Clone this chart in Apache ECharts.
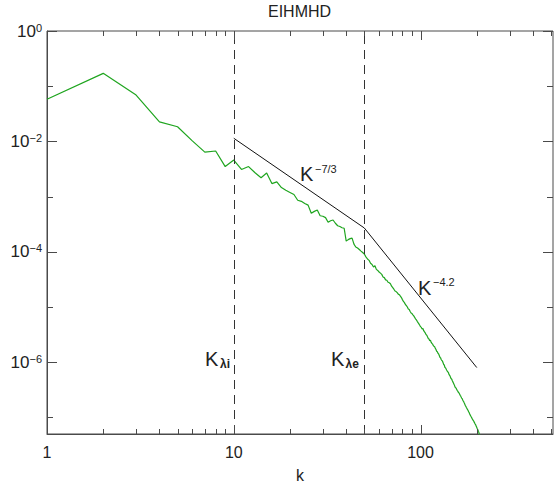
<!DOCTYPE html>
<html><head><meta charset="utf-8">
<script src="https://cdn.jsdelivr.net/npm/echarts@6/dist/echarts.min.js"></script>
<style>html,body{margin:0;padding:0;background:#fff}#c{width:556px;height:488px}</style>
</head><body><div id="c"></div>
<script>
// Energy spectrum E(k), k = 1, 2, 3, ... (one value per integer k)
const energy = [
  5.8e-2, 1.71e-1, 6.9e-2, 2.26e-2, 1.84e-2, 1.02e-2, 6.4e-3, 6.7e-3, 3.5e-3, 4.6e-3,
  3.1e-3, 3.5e-3, 2.7e-3, 2.2e-3, 2.67e-3, 1.72e-3, 1.85e-3, 1.46e-3, 1.30e-3, 1.19e-3,
  1.09e-3, 8.6e-4, 8.2e-4, 7.5e-4, 7.0e-4, 5.0e-4, 5.4e-4, 5.7e-4, 4.5e-4, 4.4e-4,
  4.16e-4, 3.43e-4, 3.65e-4, 3.77e-4, 3.29e-4, 2.96e-4, 2.87e-4, 2.73e-4, 2.67e-4, 1.56e-4,
  1.66e-4, 1.73e-4, 1.77e-4, 1.38e-4, 1.22e-4, 1.17e-4, 1.10e-4, 1.03e-4, 9.7e-5, 9.1e-5,
  8.1e-5, 7.4e-5, 7.0e-5, 6.2e-5, 5.9e-5, 5.3e-5, 5.6e-5, 4.8e-5, 4.6e-5, 4.3e-5,
  4.1e-5, 3.9e-5, 3.5e-5, 3.4e-5, 3.1e-5, 3.05e-5, 2.8e-5, 2.75e-5, 2.64e-5, 2.38e-5,
  2.24e-5, 2.1e-5, 1.95e-5, 1.9e-5, 1.82e-5, 1.71e-5, 1.67e-5, 1.57e-5, 1.48e-5, 1.36e-5,
  1.26e-5, 1.2e-5, 1.11e-5, 1.06e-5, 1.0e-5, 9.2e-6, 9.0e-6, 8.3e-6, 7.8e-6, 7.6e-6,
  7.2e-6, 6.9e-6, 6.5e-6, 6.1e-6, 5.85e-6, 5.5e-6, 5.2e-6, 4.95e-6, 4.66e-6, 4.4e-6,
  4.27e-6, 3.98e-6, 4.07e-6, 3.72e-6, 3.55e-6, 3.39e-6, 3.16e-6, 3.09e-6, 2.88e-6, 2.69e-6,
  2.63e-6, 2.45e-6, 2.51e-6, 2.29e-6, 2.19e-6, 2.14e-6, 2.0e-6, 1.95e-6, 1.91e-6, 1.78e-6,
  1.70e-6, 1.58e-6, 1.55e-6, 1.45e-6, 1.41e-6, 1.32e-6, 1.23e-6, 1.20e-6, 1.12e-6, 1.07e-6,
  1.05e-6, 9.8e-7, 9.1e-7, 8.9e-7, 8.1e-7, 7.9e-7, 7.8e-7, 7.2e-7, 6.9e-7, 6.8e-7,
  6.5e-7, 6.0e-7, 5.9e-7, 5.6e-7, 5.2e-7, 5.0e-7, 4.9e-7, 4.6e-7, 4.4e-7, 4.2e-7,
  4.0e-7, 3.8e-7, 3.55e-7, 3.47e-7, 3.39e-7, 3.24e-7, 3.09e-7, 3.02e-7, 2.88e-7, 2.82e-7,
  2.75e-7, 2.63e-7, 2.51e-7, 2.45e-7, 2.34e-7, 2.24e-7, 2.19e-7, 2.09e-7, 2.0e-7, 1.95e-7,
  1.86e-7, 1.78e-7, 1.70e-7, 1.62e-7, 1.58e-7, 1.51e-7, 1.48e-7, 1.41e-7, 1.38e-7, 1.32e-7,
  1.26e-7, 1.23e-7, 1.17e-7, 1.12e-7, 1.10e-7, 1.05e-7, 1.02e-7, 1.0e-7, 9.5e-8, 9.3e-8,
  8.9e-8, 8.7e-8, 8.5e-8, 8.1e-8, 7.9e-8, 7.6e-8, 7.4e-8, 7.1e-8, 6.8e-8, 6.6e-8,
  6.3e-8, 6.2e-8, 5.9e-8, 5.6e-8, 5.4e-8, 5.1e-8, 4.9e-8, 4.7e-8
];
// Reference power-law segments K^-7/3 (10..50) and K^-4.2 (50..200)
const kRef = [10, 50, 200];
const refLine = [1.14e-2, 2.7e-4, 8.0e-7];
// Dashed vertical markers K_lambda_i and K_lambda_e
const kMarks = [10, 50];
// Ticks and tick labels
const xMajorTicks = [1, 10, 100];
const xTickLabels = ['1', '10', '100'];
const xMinorTicks = [2, 3, 4, 5, 6, 7, 8, 9, 20, 30, 40, 50, 60, 70, 80, 90, 200, 300, 400, 500];
const yMajorTicks = [1, 1e-2, 1e-4, 1e-6];
const yTickLabels = ['0', '\u22122', '\u22124', '\u22126'];
const yMinorTicks = [1e-1, 1e-3, 1e-5, 1e-7];

const FONT = 'Liberation Sans';
const AXC = '#4a4a4a';
function findTick(arr, v) {
  return arr.findIndex(t => Math.abs(Math.log10(t) - Math.log10(v)) < 1e-6);
}

function tickSeries(axis, majors, minors) {
  const all = majors.concat(minors);
  return {
    type: 'custom', silent: true, clip: false, z: 6,
    data: all.map(v => axis === 'x' ? [v, 1e-3] : [10, v]),
    encode: { x: 0, y: 1 },
    renderItem: function (params, api) {
      const cs = params.coordSys;
      const p = api.coord([api.value(0), api.value(1)]);
      const v = axis === 'x' ? api.value(0) : api.value(1);
      const major = findTick(majors, v) >= 0;
      const style = { stroke: AXC, lineWidth: 1 };
      if (axis === 'x') {
        const len = major ? 9 : 5;
        const x = Math.round(p[0]) + 0.5;
        const b = cs.y + cs.height;
        return { type: 'group', children: [
          { type: 'line', shape: { x1: x, y1: b, x2: x, y2: b - len }, style: style },
          { type: 'line', shape: { x1: x, y1: cs.y, x2: x, y2: cs.y + len }, style: style }
        ]};
      } else {
        const len = major ? 10 : 6;
        const y = Math.round(p[1]) + 0.5;
        const r = cs.x + cs.width;
        return { type: 'group', children: [
          { type: 'line', shape: { x1: cs.x, y1: y, x2: cs.x + len, y2: y }, style: style },
          { type: 'line', shape: { x1: r, y1: y, x2: r - len, y2: y }, style: style }
        ]};
      }
    }
  };
}

const chart = echarts.init(document.getElementById('c'), null, { renderer: 'svg' });
chart.setOption({
  animation: false,
  backgroundColor: '#fff',
  textStyle: { fontFamily: FONT },
  title: {
    text: 'EIHMHD', left: 268, top: 3, padding: 0,
    textStyle: { fontSize: 16, fontWeight: 'normal', color: '#222', fontFamily: FONT }
  },
  grid: { left: 47, top: 31, width: 508, height: 406, show: true, borderColor: AXC, borderWidth: 1, backgroundColor: 'transparent' },
  xAxis: {
    type: 'log', logBase: 10, min: 1, max: 512,
    axisLine: { show: true, lineStyle: { color: AXC, width: 1 } },
    axisTick: { show: false }, splitLine: { show: false },
    axisLabel: {
      margin: 10, fontSize: 16, color: '#222', fontFamily: FONT,
      showMinLabel: true, showMaxLabel: true,
      formatter: function (v) { const i = findTick(xMajorTicks, v); return i >= 0 ? xTickLabels[i] : ''; }
    },
    name: 'k', nameLocation: 'middle', nameGap: 33,
    nameTextStyle: { fontSize: 16, color: '#222', fontFamily: FONT }
  },
  yAxis: {
    type: 'log', logBase: 10, min: 5e-8, max: 1,
    axisLine: { show: true, lineStyle: { color: AXC, width: 1 } },
    axisTick: { show: false }, splitLine: { show: false },
    axisLabel: {
      margin: 5, color: '#222', fontFamily: FONT,
      showMinLabel: true, showMaxLabel: true,
      formatter: function (v) { const i = findTick(yMajorTicks, v); return i >= 0 ? '{b|10}{s|' + yTickLabels[i] + '}' : ''; },
      rich: {
        b: { fontSize: 17, lineHeight: 18, color: '#222', fontFamily: FONT },
        s: { fontSize: 11, lineHeight: 11, verticalAlign: 'top', color: '#222', fontFamily: FONT }
      }
    }
  },
  series: [
    {
      type: 'line', name: 'E(k)', showSymbol: false, symbol: 'none', z: 3,
      data: energy.map((v, i) => [i + 1, v]),
      lineStyle: { color: '#1fa51f', width: 1.2 }
    },
    {
      type: 'line', name: 'ref', showSymbol: false, symbol: 'none', z: 4,
      data: kRef.map((k, i) => [k, refLine[i]]),
      lineStyle: { color: '#111', width: 1 },
      markLine: {
        silent: true, symbol: ['none', 'none'], label: { show: false },
        lineStyle: { color: '#333', type: [9, 6], width: 1 },
        data: kMarks.map(k => ({ xAxis: k }))
      }
    },
    tickSeries('x', xMajorTicks, xMinorTicks),
    tickSeries('y', yMajorTicks, yMinorTicks)
  ],
  graphic: [
    { type: 'text', x: 300, y: 174, style: { text: 'K', fontSize: 20, fontFamily: FONT, fill: '#222', verticalAlign: 'middle', align: 'left' } },
    { type: 'text', x: 315, y: 169, style: { text: '\u22127/3', fontSize: 11, fontFamily: FONT, fill: '#222', verticalAlign: 'middle', align: 'left' } },
    { type: 'text', x: 418, y: 288, style: { text: 'K', fontSize: 20, fontFamily: FONT, fill: '#222', verticalAlign: 'middle', align: 'left' } },
    { type: 'text', x: 433, y: 282, style: { text: '\u22124.2', fontSize: 11, fontFamily: FONT, fill: '#222', verticalAlign: 'middle', align: 'left' } },
    { type: 'text', x: 205, y: 358.5, style: { text: 'K', fontSize: 20, fontFamily: FONT, fill: '#222', verticalAlign: 'middle', align: 'left' } },
    { type: 'text', x: 220, y: 364, style: { text: '\u03bbi', fontSize: 12, fontWeight: 'bold', fontFamily: FONT, fill: '#222', verticalAlign: 'middle', align: 'left' } },
    { type: 'text', x: 331, y: 358.5, style: { text: 'K', fontSize: 20, fontFamily: FONT, fill: '#222', verticalAlign: 'middle', align: 'left' } },
    { type: 'text', x: 345.5, y: 364, style: { text: '\u03bbe', fontSize: 12, fontWeight: 'bold', fontFamily: FONT, fill: '#222', verticalAlign: 'middle', align: 'left' } }
  ]
});
</script>
</body></html>
